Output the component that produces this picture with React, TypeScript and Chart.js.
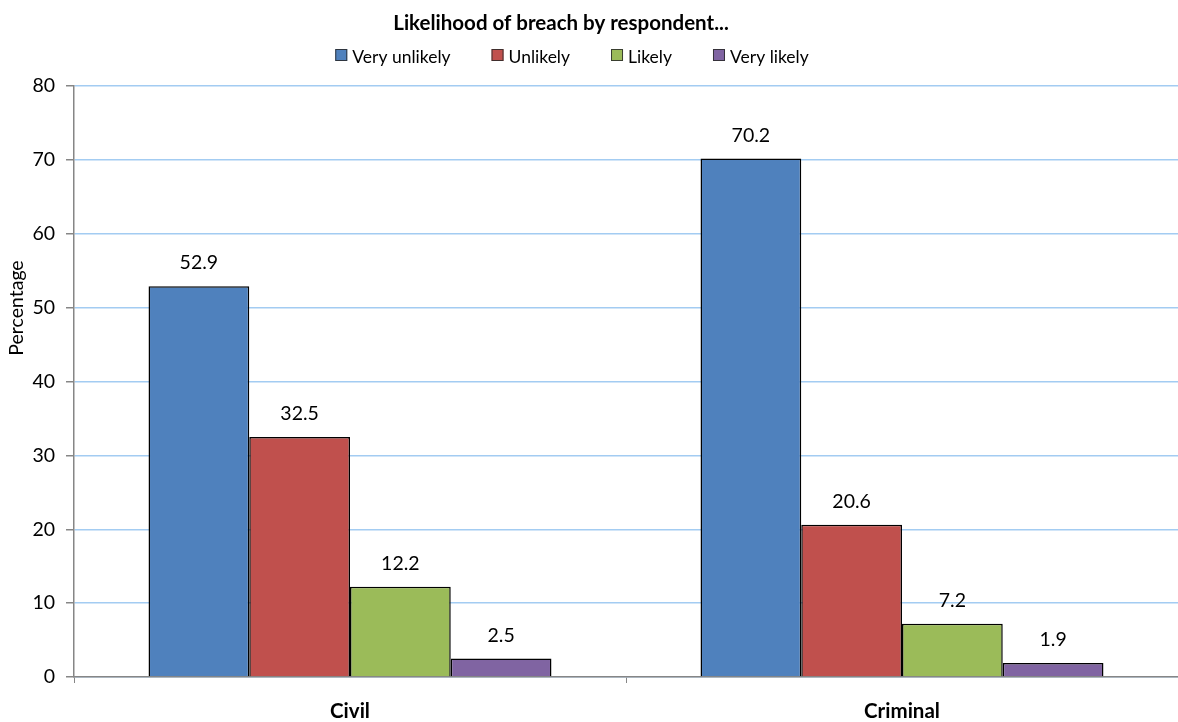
import { useEffect, useRef } from "react";
import { Chart, registerables } from "chart.js";

Chart.register(...registerables);

// Chart content
const chartTitle = "Likelihood of breach by respondent...";
const yAxisTitle = "Percentage";
const categories = ["Civil", "Criminal"];
const seriesNames = ["Very unlikely", "Unlikely", "Likely", "Very likely"];
const veryUnlikely = [52.9, 70.2];
const unlikely = [32.5, 20.6];
const likely = [12.2, 7.2];
const veryLikely = [2.5, 1.9];
const yMin = 0;
const yMax = 80;
const yStep = 10;

const seriesValues = [veryUnlikely, unlikely, likely, veryLikely];
const seriesColors = ["#4F81BD", "#C0504D", "#9BBB59", "#8064A2"];

const FONT = "Lato, 'Open Sans', sans-serif";
const GRID_BLUE = "#A3CCF2";
const AXIS_GREY = "#868686";

// Title and legend row above the plot
const headerPlugin = {
  id: "header",
  afterDraw(chart: any) {
    const ctx = chart.ctx;
    ctx.save();
    ctx.fillStyle = "#000";
    ctx.textAlign = "center";
    ctx.textBaseline = "alphabetic";
    ctx.font = `bold 20.5px ${FONT}`;
    ctx.fillText(chartTitle, 561, 29.5);

    ctx.font = `17.5px ${FONT}`;
    const box = 12;
    const textGap = 5;
    const itemGap = 41;
    const items = chart.data.datasets.map((ds: any) => ({
      label: ds.label,
      color: ds.backgroundColor,
      w: box + textGap + ctx.measureText(ds.label).width,
    }));
    const total =
      items.reduce((s: number, it: any) => s + it.w, 0) + itemGap * (items.length - 1);
    let x = 572 - total / 2;
    ctx.textAlign = "left";
    ctx.textBaseline = "alphabetic";
    for (const it of items) {
      ctx.fillStyle = it.color;
      ctx.fillRect(x, 49, box, box);
      ctx.strokeStyle = "rgba(40,40,40,0.85)";
      ctx.lineWidth = 1;
      ctx.strokeRect(x + 0.5, 49.5, box - 1, box - 1);
      ctx.fillStyle = "#000";
      ctx.fillText(it.label, x + box + textGap, 63);
      x += it.w + itemGap;
    }

    // vertical axis title
    ctx.save();
    ctx.translate(17, 308);
    ctx.rotate(-Math.PI / 2);
    ctx.textAlign = "center";
    ctx.textBaseline = "middle";
    ctx.font = `19.5px ${FONT}`;
    ctx.fillText(yAxisTitle, 0, 0);
    ctx.restore();
    ctx.restore();
  },
};

// Value labels above each bar
const valueLabelPlugin = {
  id: "valueLabels",
  afterDatasetsDraw(chart: any) {
    const ctx = chart.ctx;
    ctx.save();
    ctx.fillStyle = "#000";
    ctx.font = `19.5px ${FONT}`;
    ctx.textAlign = "center";
    ctx.textBaseline = "middle";
    chart.data.datasets.forEach((ds: any, di: number) => {
      const meta = chart.getDatasetMeta(di);
      meta.data.forEach((el: any, i: number) => {
        ctx.fillText(ds.data[i].toFixed(1), el.x, el.y - 23);
      });
    });
    ctx.restore();
  },
};

export default function App() {
  const canvasRef = useRef<HTMLCanvasElement | null>(null);

  useEffect(() => {
    if (!canvasRef.current) return;
    const chart = new Chart(canvasRef.current, {
      type: "bar",
      data: {
        labels: categories,
        datasets: seriesNames.map((name, i) => ({
          label: name,
          data: seriesValues[i],
          backgroundColor: seriesColors[i],
          borderColor: "#000",
          borderWidth: 1.5,
          categoryPercentage: 0.73,
          barPercentage: 1,
        })),
      },
      options: {
        animation: false,
        responsive: true,
        maintainAspectRatio: false,
        layout: { padding: { top: 86, left: 0, right: 0, bottom: 0 } },
        plugins: {
          legend: { display: false },
          title: { display: false },
          tooltip: { enabled: false },
        },
        scales: {
          x: {
            offset: true,
            grid: {
              display: true,
              offset: true,
              drawOnChartArea: false,
              drawTicks: true,
              tickLength: 6,
              color: AXIS_GREY,
              tickColor: AXIS_GREY,
            },
            border: { color: AXIS_GREY, width: 1.5 },
            ticks: {
              color: "#000",
              font: { family: FONT, size: 20.5, weight: "bold" },
              padding: 16,
              maxRotation: 0,
            },
            afterFit(scale: any) {
              scale.height = 45;
            },
          },
          y: {
            min: yMin,
            max: yMax,
            grid: {
              color: GRID_BLUE,
              tickColor: AXIS_GREY,
              tickLength: 8,
              lineWidth: 1.5,
            },
            border: { color: AXIS_GREY, width: 1.5 },
            ticks: {
              stepSize: yStep,
              color: "#000",
              font: { family: FONT, size: 19.5 },
              padding: 11,
            },
            afterFit(scale: any) {
              scale.width = 74;
            },
          },
        },
      },
      plugins: [headerPlugin, valueLabelPlugin],
    });
    return () => chart.destroy();
  }, []);

  return (
    <div style={{ position: "fixed", left: 0, top: 0, width: 1178, height: 722, background: "#fff" }}>
      <canvas ref={canvasRef} />
    </div>
  );
}
